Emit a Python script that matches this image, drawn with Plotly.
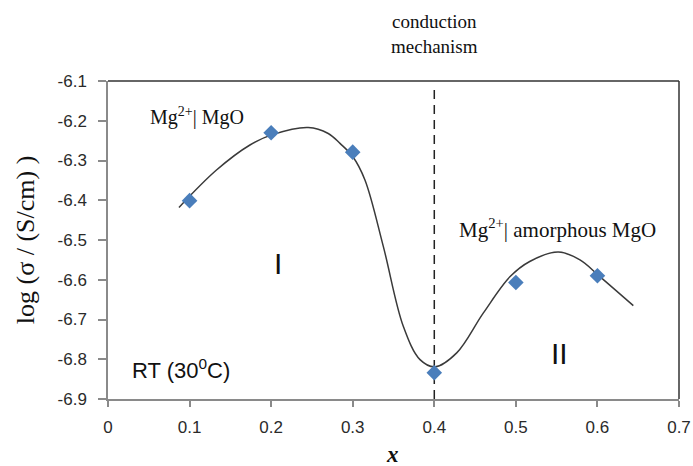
import plotly.graph_objects as go

# measured data points
x_data = [0.1, 0.2, 0.3, 0.4, 0.5, 0.6]
y_data = [-6.401, -6.23, -6.279, -6.834, -6.607, -6.590]

# smooth guide curve
x_curve = [0.087, 0.133, 0.174, 0.2015, 0.2456, 0.27, 0.2844, 0.30, 0.315, 0.3375, 0.362, 0.3825, 0.401,
           0.4275, 0.46, 0.493, 0.517, 0.552, 0.5786, 0.603, 0.644]
y_curve = [-6.418, -6.324, -6.261, -6.235, -6.217, -6.232, -6.257, -6.29, -6.349, -6.516, -6.717, -6.801, -6.819,
           -6.784, -6.684, -6.592, -6.554, -6.53, -6.55, -6.592, -6.665]

x_ticks = [0, 0.1, 0.2, 0.3, 0.4, 0.5, 0.6, 0.7]
x_tick_text = ["0", "0.1", "0.2", "0.3", "0.4", "0.5", "0.6", "0.7"]
y_ticks = [-6.9, -6.8, -6.7, -6.6, -6.5, -6.4, -6.3, -6.2, -6.1]
y_tick_text = ["-6.9", "-6.8", "-6.7", "-6.6", "-6.5", "-6.4", "-6.3", "-6.2", "-6.1"]

divider_x = 0.4

fig = go.Figure()
fig.add_trace(go.Scatter(x=x_curve, y=y_curve, mode="lines",
                         line=dict(color="#3a3a3a", width=1.5, shape="spline", smoothing=1.0),
                         hoverinfo="skip", showlegend=False))
fig.add_trace(go.Scatter(x=x_data, y=y_data, mode="markers",
                         marker=dict(symbol="diamond", size=12, color="#4a7ebb"), showlegend=False))

# dashed divider
fig.add_shape(type="line", x0=divider_x, x1=divider_x, xref="x", yref="paper", y0=0, y1=0.98,
              line=dict(color="#222222", width=1.5, dash="9px,6px"), layer="below")
# dark top and right frame
fig.add_shape(type="line", xref="paper", yref="paper", x0=0, x1=1, y0=1, y1=1,
              line=dict(color="#333333", width=1.5))
fig.add_shape(type="line", xref="paper", yref="paper", x0=1, x1=1, y0=0, y1=1,
              line=dict(color="#333333", width=1.5))

serif = "Liberation Serif, Times New Roman, serif"
sans = "Liberation Sans, Arial, sans-serif"

fig.add_annotation(x=divider_x, y=1.148, xref="x", yref="paper", yanchor="middle",
                   text="conduction<br>mechanism", showarrow=False,
                   font=dict(family=serif, size=19, color="#111111"), align="center")
fig.add_annotation(x=0.049, y=-6.19, xref="x", yref="y", xanchor="left", text="Mg<sup>2+</sup>| MgO", showarrow=False,
                   font=dict(family=serif, size=20, color="#111111"))
fig.add_annotation(x=0.428, y=-6.47, xref="x", yref="y", xanchor="left", text="Mg<sup>2+</sup>| amorphous MgO", showarrow=False,
                   font=dict(family=serif, size=21, color="#111111"))
fig.add_annotation(x=0.208, y=-6.56, xref="x", yref="y", text="I", showarrow=False,
                   font=dict(family=sans, size=30, color="#111111"))
fig.add_annotation(x=0.554, y=-6.785, xref="x", yref="y", text="II", showarrow=False,
                   font=dict(family=sans, size=30, color="#111111"))
fig.add_annotation(x=0.027, y=-6.825, xref="x", yref="y", xanchor="left", text="RT (30<sup>0</sup>C)", showarrow=False,
                   font=dict(family=sans, size=22, color="#111111"))

# axis titles
fig.add_annotation(x=0.499, y=-0.175, xref="paper", yref="paper", xanchor="center", yanchor="middle",
                   text="<b><i>x</i></b>", showarrow=False,
                   font=dict(family=serif, size=23, color="#111111"))
fig.add_annotation(x=-0.145, y=0.5, xref="paper", yref="paper", xanchor="center", yanchor="middle",
                   text="log (σ / (S/cm) )", textangle=-90,
                   showarrow=False, font=dict(family=serif, size=26, color="#111111"))

fig.update_layout(
    width=693, height=466,
    margin=dict(l=108, r=14, t=81, b=67),
    paper_bgcolor="white", plot_bgcolor="white",
    xaxis=dict(range=[0, 0.7], tickvals=x_ticks, ticktext=x_tick_text, showgrid=False, zeroline=False,
               automargin=False, showline=True, linecolor="#8a8a8a", linewidth=1.5, ticks="outside", ticklen=6,
               tickwidth=1.5, tickcolor="#8a8a8a", ticklabelstandoff=6,
               tickfont=dict(family=sans, size=17, color="#2a2a2a")),
    yaxis=dict(range=[-6.9, -6.1], tickvals=y_ticks, ticktext=y_tick_text, showgrid=False, zeroline=False,
               automargin=False, showline=True, linecolor="#8a8a8a", linewidth=1.5, ticks="outside", ticklen=8,
               tickwidth=1.5, tickcolor="#8a8a8a", ticklabelstandoff=8,
               tickfont=dict(family=sans, size=17, color="#2a2a2a")),
)

fig.write_html("out.html")
